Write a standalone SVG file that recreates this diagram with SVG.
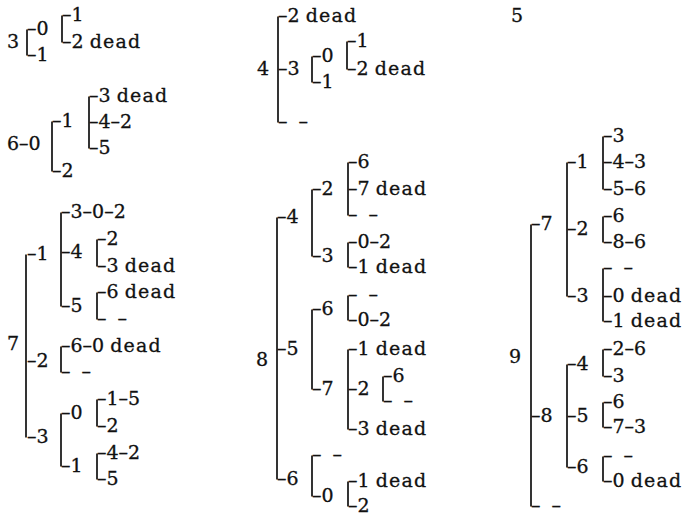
<svg xmlns="http://www.w3.org/2000/svg" width="688" height="516" viewBox="0 0 688 516">
<style>
text{font-family:"DejaVu Serif","Liberation Serif",serif;font-size:19px;fill:#111;stroke:#111;stroke-width:0.3}
.d{letter-spacing:1.2px}
.g{word-spacing:5px}
#connectors path{stroke:#111;stroke-width:1.7;fill:none}
</style>
<rect width="688" height="516" fill="#fff"/>
<g id="connectors">
<!-- tree 3 -->
<path d="M27 29.4V55.4M62 15.4V42.4"/>
<!-- tree 6-0 -->
<path d="M52 121.4V171.4M89 96.4V148.4"/>
<!-- tree 7 -->
<path d="M26 254.4V437.4M61 212.4V306.4M97 239.4V266.4M97 292.4V319.4M61 346.4V372.4M61 413.4V466.4M97 399.4V426.4M97 453.4V479.4"/>
<!-- tree 4 -->
<path d="M278 16.4V122.4M312 56.4V82.4M347 41.4V69.4"/>
<!-- tree 8 -->
<path d="M277 217.4V479.4M312 189.4V256.4M348 162.4V215.4M348 242.4V267.4M312 309.4V389.4M348 295.4V320.4M348 349.4V429.4M383 376.4V401.4M312 455.4V496.4M348 481.4V506.4"/>
<!-- tree 9 -->
<path d="M531 224.4V506.4M567 162.4V296.4M603 136.4V189.4M603 216.4V242.4M603 268.4V321.4M567 364.4V467.4M603 349.4V376.4M603 402.4V427.4M603 456.4V481.4"/>
</g>
<g id="tree3">
<text id="n3" x="7" y="48">3</text>
<text id="n3-0" x="27" y="35">–0</text>
<text id="n3-1" x="27" y="61">–1</text>
<text id="n3-0-1" x="62" y="21">–1</text>
<text id="n3-0-2" x="62" y="48">–2 <tspan class="d">dead</tspan></text>
</g>
<g id="tree60">
<text id="n60" x="7" y="150">6–0</text>
<text id="n60-1" x="52" y="127">–1</text>
<text id="n60-2" x="52" y="177">–2</text>
<text id="n60-1-3" x="89" y="102">–3 <tspan class="d">dead</tspan></text>
<text id="n60-1-4" x="89" y="128">–4–2</text>
<text id="n60-1-5" x="89" y="154">–5</text>
</g>
<g id="tree7">
<text id="n7" x="7" y="350">7</text>
<text id="n7-1" x="27" y="260">–1</text>
<text id="n7-2" x="27" y="367">–2</text>
<text id="n7-3" x="27" y="443">–3</text>
<text id="n7-1-3" x="61" y="218">–3–0–2</text>
<text id="n7-1-4" x="61" y="258">–4</text>
<text id="n7-1-5" x="61" y="312">–5</text>
<text id="n7-1-4-2" x="97" y="245">–2</text>
<text id="n7-1-4-3" x="97" y="272">–3 <tspan class="d">dead</tspan></text>
<text id="n7-1-5-6" x="97" y="298">–6 <tspan class="d">dead</tspan></text>
<text id="n7-1-5-x" class="g" x="97" y="325">– –</text>
<text id="n7-2-6" x="61" y="352">–6–0 <tspan class="d">dead</tspan></text>
<text id="n7-2-x" class="g" x="61" y="378">– –</text>
<text id="n7-3-0" x="61" y="419">–0</text>
<text id="n7-3-1" x="61" y="472">–1</text>
<text id="n7-3-0-1" x="97" y="405">–1–5</text>
<text id="n7-3-0-2" x="97" y="432">–2</text>
<text id="n7-3-1-4" x="97" y="459">–4–2</text>
<text id="n7-3-1-5" x="97" y="485">–5</text>
</g>
<g id="tree4">
<text id="n4" x="257" y="75">4</text>
<text id="n4-2" x="278" y="22">–2 <tspan class="d">dead</tspan></text>
<text id="n4-3" x="278" y="75">–3</text>
<text id="n4-x" class="g" x="278" y="128">– –</text>
<text id="n4-3-0" x="312" y="62">–0</text>
<text id="n4-3-1" x="312" y="88">–1</text>
<text id="n4-3-0-1" x="347" y="47">–1</text>
<text id="n4-3-0-2" x="347" y="75">–2 <tspan class="d">dead</tspan></text>
</g>
<g id="tree8">
<text id="n8" x="256" y="366">8</text>
<text id="n8-4" x="277" y="223">–4</text>
<text id="n8-5" x="277" y="355">–5</text>
<text id="n8-6" x="277" y="485">–6</text>
<text id="n8-4-2" x="312" y="195">–2</text>
<text id="n8-4-3" x="312" y="262">–3</text>
<text id="n8-4-2-6" x="348" y="168">–6</text>
<text id="n8-4-2-7" x="348" y="195">–7 <tspan class="d">dead</tspan></text>
<text id="n8-4-2-x" class="g" x="348" y="221">– –</text>
<text id="n8-4-3-0" x="348" y="248">–0–2</text>
<text id="n8-4-3-1" x="348" y="273">–1 <tspan class="d">dead</tspan></text>
<text id="n8-5-6" x="312" y="315">–6</text>
<text id="n8-5-7" x="312" y="395">–7</text>
<text id="n8-5-6-x" class="g" x="348" y="301">– –</text>
<text id="n8-5-6-0" x="348" y="326">–0–2</text>
<text id="n8-5-7-1" x="348" y="355">–1 <tspan class="d">dead</tspan></text>
<text id="n8-5-7-2" x="348" y="395">–2</text>
<text id="n8-5-7-3" x="348" y="435">–3 <tspan class="d">dead</tspan></text>
<text id="n8-5-7-2-6" x="383" y="382">–6</text>
<text id="n8-5-7-2-x" class="g" x="383" y="407">– –</text>
<text id="n8-6-x" class="g" x="312" y="461">– –</text>
<text id="n8-6-0" x="312" y="502">–0</text>
<text id="n8-6-0-1" x="348" y="487">–1 <tspan class="d">dead</tspan></text>
<text id="n8-6-0-2" x="348" y="512">–2</text>
</g>
<g id="tree5">
<text id="n5" x="511" y="22">5</text>
</g>
<g id="tree9">
<text id="n9" x="509" y="363">9</text>
<text id="n9-7" x="531" y="230">–7</text>
<text id="n9-8" x="531" y="422">–8</text>
<text id="n9-x" class="g" x="531" y="512">– –</text>
<text id="n9-7-1" x="567" y="168">–1</text>
<text id="n9-7-2" x="567" y="235">–2</text>
<text id="n9-7-3" x="567" y="302">–3</text>
<text id="n9-7-1-3" x="603" y="142">–3</text>
<text id="n9-7-1-4" x="603" y="168">–4–3</text>
<text id="n9-7-1-5" x="603" y="195">–5–6</text>
<text id="n9-7-2-6" x="603" y="222">–6</text>
<text id="n9-7-2-8" x="603" y="248">–8–6</text>
<text id="n9-7-3-x" class="g" x="603" y="274">– –</text>
<text id="n9-7-3-0" x="603" y="302">–0 <tspan class="d">dead</tspan></text>
<text id="n9-7-3-1" x="603" y="327">–1 <tspan class="d">dead</tspan></text>
<text id="n9-8-4" x="567" y="370">–4</text>
<text id="n9-8-5" x="567" y="422">–5</text>
<text id="n9-8-6" x="567" y="473">–6</text>
<text id="n9-8-4-2" x="603" y="355">–2–6</text>
<text id="n9-8-4-3" x="603" y="382">–3</text>
<text id="n9-8-5-6" x="603" y="408">–6</text>
<text id="n9-8-5-7" x="603" y="433">–7–3</text>
<text id="n9-8-6-x" class="g" x="603" y="462">– –</text>
<text id="n9-8-6-0" x="603" y="487">–0 <tspan class="d">dead</tspan></text>
</g>
</svg>
